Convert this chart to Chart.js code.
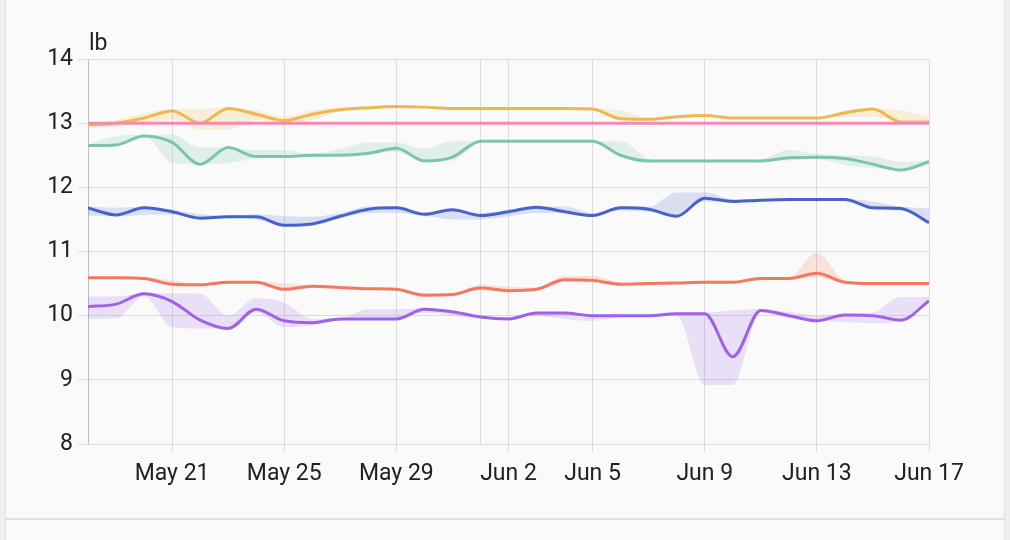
<!DOCTYPE html>
<html>
<head>
<meta charset="utf-8">
<script src="https://cdn.jsdelivr.net/npm/chart.js@4.4.1/dist/chart.umd.min.js"></script>
<style>
  body { margin: 0; background: #efefef; font-family: Roboto, sans-serif; }
  .card { position: absolute; left: 5px; top: -20px; width: 998px; height: 537px; background: #fafafa; border: 1px solid #e0e0e0; }
  .card2 { position: absolute; left: 5px; top: 519px; width: 998px; height: 60px; background: #fafafa; border: 1px solid #e0e0e0; }
  #chart { position: absolute; left: 0; top: 0; }
</style>
</head>
<body>
<div class="card"></div>
<div class="card2"></div>
<canvas id="chart" width="1010" height="518"></canvas>
<script>
// days since May 18
const days = [0,1,2,3,4,5,6,7,8,9,10,11,12,13,14,15,16,17,18,19,20,21,22,23,24,25,26,27,28,29,30];

const tickDays = [3, 7, 11, 14, 15, 18, 22, 26, 30];
const tickLabels = ['May 21', 'May 25', 'May 29', '', 'Jun 2', 'Jun 5', 'Jun 9', 'Jun 13', 'Jun 17'];

const pinkMean = [13,13,13,13,13,13,13,13,13,13,13,13,13,13,13,13,13,13,13,13,13,13,13,13,13,13,13,13,13,13,13];

const yellowMean = [12.97,13.0,13.08,13.19,13.0,13.23,13.14,13.04,13.14,13.21,13.24,13.26,13.25,13.23,13.23,13.23,13.23,13.23,13.22,13.07,13.06,13.1,13.12,13.08,13.08,13.08,13.08,13.16,13.22,13.02,13.02];
const yellowMin = [12.93,12.95,13.0,13.05,12.9,12.9,13.05,13.0,13.05,13.18,13.24,13.26,13.25,13.23,13.23,13.23,13.23,13.23,13.2,13.05,13.06,13.1,13.12,13.08,13.08,13.08,13.08,13.1,13.1,13.02,13.02];
const yellowMax = [13.0,13.05,13.15,13.22,13.22,13.25,13.2,13.1,13.2,13.25,13.26,13.27,13.25,13.23,13.23,13.23,13.23,13.23,13.23,13.2,13.08,13.12,13.13,13.08,13.08,13.08,13.08,13.2,13.23,13.2,13.1];

const greenMean = [12.65,12.66,12.8,12.7,12.36,12.62,12.48,12.48,12.5,12.5,12.53,12.61,12.41,12.47,12.72,12.72,12.72,12.72,12.72,12.5,12.41,12.41,12.41,12.41,12.41,12.46,12.47,12.45,12.36,12.27,12.4];
const greenMin = [12.64,12.65,12.8,12.38,12.36,12.38,12.45,12.48,12.5,12.5,12.53,12.55,12.41,12.42,12.7,12.72,12.72,12.72,12.72,12.5,12.41,12.41,12.41,12.41,12.41,12.42,12.44,12.35,12.3,12.27,12.35];
const greenMax = [12.66,12.8,12.82,12.82,12.62,12.62,12.58,12.58,12.52,12.6,12.7,12.7,12.6,12.72,12.72,12.72,12.72,12.72,12.72,12.72,12.45,12.41,12.41,12.41,12.43,12.58,12.52,12.5,12.48,12.4,12.42];

const blueMean = [11.68,11.57,11.68,11.62,11.52,11.54,11.54,11.41,11.43,11.55,11.66,11.68,11.58,11.65,11.56,11.62,11.69,11.62,11.56,11.68,11.66,11.55,11.83,11.78,11.8,11.81,11.81,11.81,11.68,11.67,11.45];
const blueMin = [11.56,11.55,11.57,11.58,11.52,11.54,11.5,11.41,11.43,11.52,11.6,11.6,11.56,11.5,11.5,11.55,11.6,11.6,11.56,11.64,11.62,11.55,11.78,11.78,11.8,11.81,11.81,11.81,11.65,11.64,11.45];
const blueMax = [11.7,11.68,11.7,11.65,11.58,11.56,11.58,11.55,11.54,11.6,11.7,11.7,11.6,11.66,11.6,11.65,11.7,11.7,11.6,11.7,11.7,11.92,11.92,11.82,11.82,11.82,11.82,11.82,11.78,11.7,11.67];

const redMean = [10.59,10.59,10.58,10.49,10.48,10.52,10.52,10.41,10.46,10.44,10.42,10.41,10.32,10.33,10.43,10.39,10.41,10.56,10.55,10.49,10.5,10.51,10.52,10.52,10.58,10.58,10.66,10.52,10.5,10.5,10.5];
const redMin = [10.58,10.58,10.57,10.48,10.47,10.5,10.5,10.4,10.44,10.43,10.41,10.4,10.31,10.32,10.4,10.37,10.4,10.53,10.52,10.48,10.49,10.5,10.5,10.5,10.56,10.56,10.6,10.5,10.49,10.49,10.49];
const redMax = [10.6,10.6,10.6,10.55,10.5,10.53,10.54,10.5,10.48,10.46,10.44,10.42,10.34,10.35,10.48,10.45,10.44,10.62,10.62,10.52,10.5,10.52,10.55,10.55,10.6,10.6,10.98,10.55,10.52,10.51,10.51];

const purpleMean = [10.14,10.18,10.34,10.22,9.93,9.8,10.1,9.92,9.89,9.95,9.95,9.95,10.1,10.06,9.98,9.95,10.04,10.04,10.0,10.0,10.0,10.03,10.03,9.36,10.08,10.0,9.92,10.01,10.0,9.93,10.23];
const purpleMin = [9.95,9.96,10.3,9.82,9.8,9.8,10.05,9.82,9.85,9.93,9.95,9.95,10.05,10.0,9.96,9.95,10.0,9.95,9.92,9.98,10.0,10.0,8.92,8.92,10.05,9.97,9.92,9.9,9.88,9.92,10.2];
const purpleMax = [10.3,10.3,10.35,10.35,10.34,10.0,10.27,10.2,9.95,9.96,10.1,10.1,10.12,10.08,10.0,9.97,10.05,10.05,10.02,10.02,10.02,10.05,10.05,10.08,10.1,10.06,10.0,10.03,10.05,10.29,10.29];

function pts(arr) {
    return days.map((d, i) => ({ x: d, y: arr[i] }));
}

const datasets = [];

// min / max bands go first, lines on top
function addSeries(color, band, mean, min, max) {
    if (min) {
        const minIndex = datasets.length;
        datasets.push({ data: pts(min), borderWidth: 0, pointRadius: 0, fill: false, order: 10, cubicInterpolationMode: 'monotone' });
        datasets.push({ data: pts(max), borderWidth: 0, pointRadius: 0, fill: { target: minIndex }, backgroundColor: band, order: 10, cubicInterpolationMode: 'monotone' });
    }
    datasets.push({ data: pts(mean), borderColor: color, borderWidth: 3, pointRadius: 0, fill: false, order: 1, cubicInterpolationMode: 'monotone' });
}

addSeries('#efb84f', 'rgba(239,184,79,0.2)', yellowMean, yellowMin, yellowMax);
addSeries('#7cc4ad', 'rgba(124,196,173,0.2)', greenMean, greenMin, greenMax);
addSeries('#4862cc', 'rgba(72,98,204,0.18)', blueMean, blueMin, blueMax);
addSeries('#f4775f', 'rgba(244,119,95,0.18)', redMean, redMin, redMax);
addSeries('#9d62e8', 'rgba(157,98,232,0.18)', purpleMean, purpleMin, purpleMax);
addSeries('#f08cb4', null, pinkMean, null, null);
datasets[datasets.length - 1].order = 0;

// unit label above the y axis
const unitLabel = {
    id: 'unitLabel',
    afterDraw(chart) {
        const ctx = chart.ctx;
        ctx.save();
        ctx.font = '23px Roboto';
        ctx.fillStyle = '#212121';
        ctx.textAlign = 'left';
        ctx.textBaseline = 'alphabetic';
        ctx.fillText('lb', chart.chartArea.left + 1, 50);
        ctx.restore();
    }
};

Chart.defaults.font.family = 'Roboto';
Chart.defaults.font.size = 23;
Chart.defaults.color = '#212121';

new Chart(document.getElementById('chart'), {
    type: 'line',
    data: { datasets: datasets },
    options: {
        responsive: false,
        animation: false,
        layout: { padding: { top: 59, right: 81, left: 0, bottom: 0 } },
        plugins: {
            legend: { display: false },
            tooltip: { enabled: false }
        },
        scales: {
            x: {
                type: 'linear',
                min: 0,
                max: 30,
                afterBuildTicks: function(scale) {
                    scale.ticks = tickDays.map(v => ({ value: v }));
                },
                afterFit: function(scale) { scale.height = 74; },
                ticks: {
                    autoSkip: false,
                    maxRotation: 0,
                    padding: 8,
                    callback: function(value) {
                        const i = tickDays.indexOf(value);
                        return i >= 0 ? tickLabels[i] : '';
                    }
                },
                grid: {
                    color: '#dcdcdc',
                    tickLength: 8,
                    tickColor: function(ctx) {
                        return ctx.tick && ctx.tick.value === 14 ? 'rgba(0,0,0,0)' : '#dcdcdc';
                    }
                },
                border: { color: '#dcdcdc' }
            },
            y: {
                min: 8,
                max: 14,
                afterFit: function(scale) { scale.width = 88; },
                ticks: { stepSize: 1, padding: 5 },
                grid: { color: '#dcdcdc', tickLength: 10 },
                border: { color: '#c0c0c0' }
            }
        }
    },
    plugins: [unitLabel]
});
</script>
</body>
</html>
